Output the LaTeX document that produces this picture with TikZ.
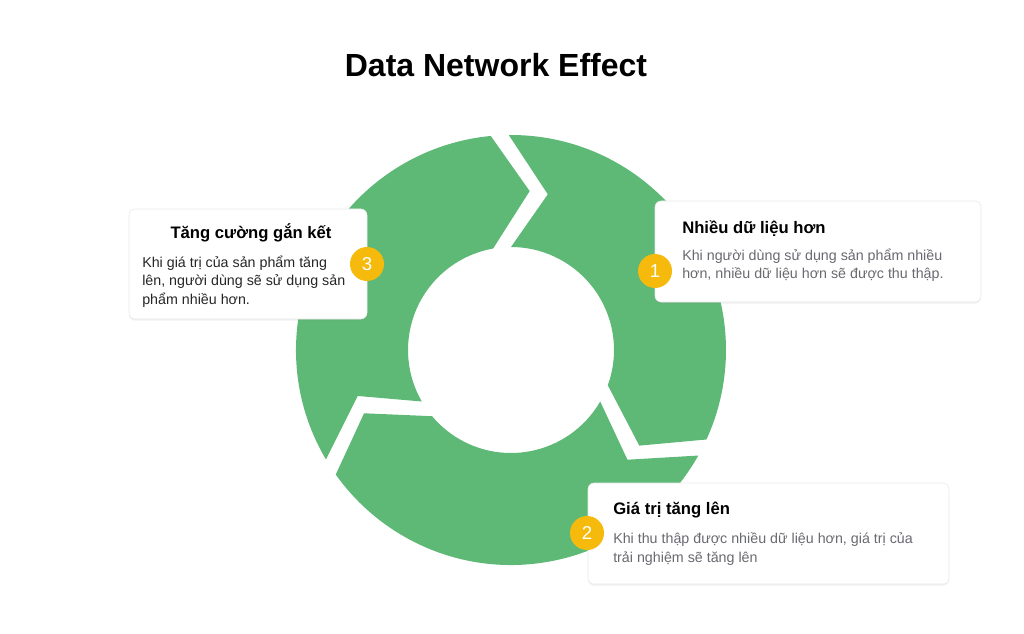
\documentclass[tikz,border=0pt]{standalone}
\usepackage{fontspec}
\setmainfont{Liberation Sans}
\definecolor{ringgreen}{RGB}{94, 185, 118}
\definecolor{badgeyellow}{RGB}{245, 186, 12}
\definecolor{bodygray}{RGB}{105, 105, 112}
\definecolor{cardline}{RGB}{232, 232, 232}
\usetikzlibrary{shadows}

\begin{document}
\begin{tikzpicture}[x=0.75pt, y=0.75pt,
  card/.style={draw=cardline, fill=white, rounded corners=4.5pt,
    drop shadow={opacity=0.12, shadow xshift=0pt, shadow yshift=-1.2pt}},
  badge/.style={circle, fill=badgeyellow, text=white, minimum size=25.5pt, inner sep=0pt,
    font=\fontsize{14}{14}\selectfont},
  cardtitle/.style={anchor=base west, inner sep=0pt, font=\bfseries\fontsize{12.5}{15}\selectfont},
  cardbody/.style={anchor=base west, inner sep=0pt, align=left, text=bodygray,
    font=\fontsize{10.7}{13.6}\selectfont}]
  \useasboundingbox (0,0) rectangle (1024,633);

  % Title
  \node[font=\bfseries\fontsize{24}{28}\selectfont, anchor=base] (title) at (496,556) {Data Network Effect};

  % Ring of three arrows (gap angles 93, -27, -147)
  \begin{scope}[shift={(511,283)}]
    \foreach \g in {93,-27,-147} {
      \fill[ringgreen] ({\g-2.4}:215) arc[start angle=\g-2.4, end angle=\g-120+2.4, radius=215]
        -- ({\g-120-9.7}:160) -- ({\g-120+7}:103)
        arc[start angle=\g-120+7, end angle=\g-3, radius=103]
        -- ({\g-16.3}:160) -- cycle;
    }
  \end{scope}

  % Card 1 (base of a text block = its last line)
  \node[card, minimum width=244.5pt, minimum height=75.75pt] (card1) at (818,381.5) {};
  \node[cardtitle] (title1) at (682,400) {Nhiều dữ liệu hơn};
  \node[cardbody] (body1) at (682,354) {Khi người dùng sử dụng sản phẩm nhiều\\hơn, nhiều dữ liệu hơn sẽ được thu thập.};
  \node[badge] (badge1) at (655,362) {1};

  % Card 2
  \node[card, minimum width=270.75pt, minimum height=75.75pt] (card2) at (768.5,99.5) {};
  \node[cardtitle] (title2) at (613,119) {Giá trị tăng lên};
  \node[cardbody] (body2) at (613,71) {Khi thu thập được nhiều dữ liệu hơn, giá trị của\\trải nghiệm sẽ tăng lên};
  \node[badge] (badge2) at (587,100) {2};

  % Card 3
  \node[card, minimum width=178.5pt, minimum height=82.5pt] (card3) at (248,369) {};
  \node[cardtitle, anchor=base] (title3) at (251,394) {Tăng cường gắn kết};
  \node[cardbody, text=black!85] (body3) at (142,329) {Khi giá trị của sản phẩm tăng\\lên, người dùng sẽ sử dụng sản\\phẩm nhiều hơn.};
  \node[badge] (badge3) at (367,369) {3};
\end{tikzpicture}
\end{document}
